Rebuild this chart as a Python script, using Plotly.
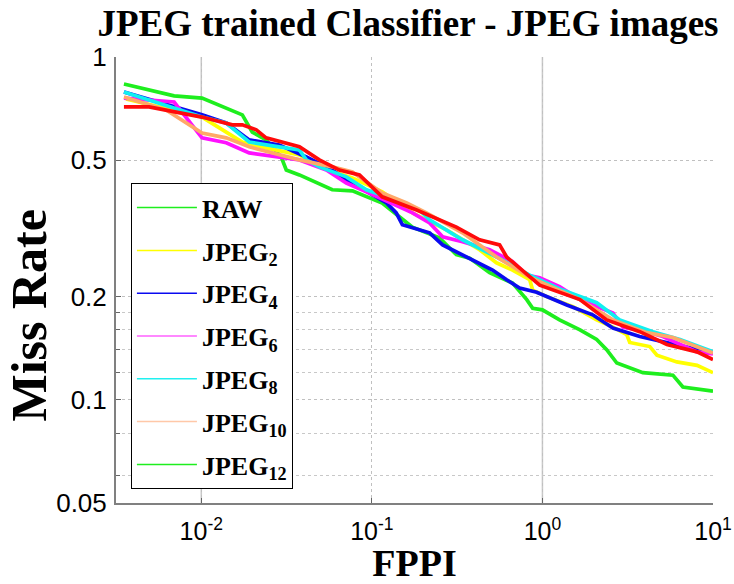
import plotly.graph_objects as go

# ---- data (FPPI vs miss rate) ----
raw_x = [0.00352, 0.00693, 0.0101, 0.0174, 0.0199, 0.0240, 0.0294, 0.0315, 0.0376, 0.0586, 0.0769,
         0.115, 0.145, 0.173, 0.249, 0.313, 0.374, 0.490, 0.668, 0.809, 0.877, 1.00, 1.26, 1.66,
         2.08, 2.38, 2.73, 3.57, 3.88, 5.82, 6.66, 10.0]
raw_y = [0.834, 0.770, 0.759, 0.678, 0.604, 0.573, 0.511, 0.468, 0.453, 0.410, 0.407,
         0.375, 0.342, 0.319, 0.297, 0.265, 0.259, 0.235, 0.219, 0.196, 0.185, 0.183, 0.171, 0.160,
         0.150, 0.140, 0.128, 0.122, 0.120, 0.118, 0.109, 0.106]

j2_x = [0.00362, 0.0101, 0.0140, 0.0174, 0.0240, 0.0376, 0.0492, 0.0769, 0.115, 0.173, 0.274,
        0.428, 0.538, 0.668, 0.842, 0.877, 1.06, 1.51, 2.08, 2.59, 3.12, 3.25, 4.26, 4.69, 6.14,
        8.06, 10.0]
j2_y = [0.754, 0.668, 0.604, 0.565, 0.543, 0.518, 0.478, 0.444, 0.404, 0.351, 0.313,
        0.274, 0.251, 0.239, 0.224, 0.209, 0.200, 0.187, 0.171, 0.163, 0.155, 0.147, 0.143, 0.135, 0.129,
        0.126, 0.120]

j4_x = [0.00352, 0.0101, 0.0140, 0.0191, 0.0286, 0.0413, 0.0586, 0.0709, 0.122, 0.139, 0.151,
        0.218, 0.260, 0.313, 0.428, 0.510, 0.617, 0.735, 0.925, 1.39, 1.97, 2.59, 3.72, 5.37,
        7.33, 10.0]
j4_y = [0.791, 0.678, 0.642, 0.573, 0.554, 0.511, 0.468, 0.438, 0.375, 0.351, 0.324,
        0.307, 0.283, 0.270, 0.251, 0.239, 0.224, 0.212, 0.206, 0.189, 0.177, 0.162, 0.153, 0.147,
        0.142, 0.137]

j6_x = [0.00352, 0.00693, 0.0101, 0.0140, 0.0191, 0.0376, 0.0541, 0.0709, 0.0929, 0.145, 0.173,
        0.218, 0.260, 0.340, 0.490, 0.668, 0.809, 0.964, 1.26, 1.66, 2.59, 2.96, 4.09, 5.08,
        6.40, 8.06, 10.0]
j6_y = [0.759, 0.739, 0.581, 0.562, 0.525, 0.501, 0.468, 0.429, 0.404, 0.365, 0.351,
        0.328, 0.299, 0.289, 0.274, 0.253, 0.231, 0.227, 0.214, 0.196, 0.179, 0.163, 0.158, 0.153,
        0.145, 0.138, 0.136]

j8_x = [0.00352, 0.0101, 0.0140, 0.0191, 0.0286, 0.0376, 0.0413, 0.0492, 0.0709, 0.0929, 0.122,
        0.190, 0.218, 0.340, 0.538, 0.842, 1.31, 2.08, 2.84, 4.44, 6.40, 10.0]
j8_y = [0.791, 0.668, 0.642, 0.565, 0.547, 0.536, 0.501, 0.478, 0.447, 0.410, 0.391,
        0.358, 0.335, 0.293, 0.261, 0.231, 0.209, 0.192, 0.171, 0.158, 0.150, 0.138]

j10_x = [0.00352, 0.00622, 0.0101, 0.0140, 0.0191, 0.0376, 0.0586, 0.0769, 0.115, 0.160, 0.209,
         0.340, 0.538, 0.842, 1.66, 2.59, 4.09, 5.82, 10.0]
j10_y = [0.764, 0.701, 0.600, 0.581, 0.547, 0.501, 0.478, 0.462, 0.401, 0.375, 0.351,
         0.307, 0.261, 0.228, 0.196, 0.171, 0.157, 0.152, 0.137]

j12_x = [0.00352, 0.00494, 0.0101, 0.0152, 0.0174, 0.0210, 0.0240, 0.0298, 0.0376, 0.0492, 0.0645,
         0.0846, 0.115, 0.183, 0.313, 0.428, 0.561, 0.617, 0.765, 0.964, 1.66, 2.38, 3.72, 5.37,
         8.06, 10.0]
j12_y = [0.715, 0.715, 0.668, 0.634, 0.634, 0.613, 0.581, 0.565, 0.547, 0.501, 0.468,
         0.453, 0.391, 0.358, 0.319, 0.293, 0.283, 0.261, 0.239, 0.216, 0.196, 0.171, 0.158, 0.145,
         0.138, 0.131]

series_names = ["RAW", "JPEG2", "JPEG4", "JPEG6", "JPEG8", "JPEG10", "JPEG12"]
series_x = [raw_x, j2_x, j4_x, j6_x, j8_x, j10_x, j12_x]
series_y = [raw_y, j2_y, j4_y, j6_y, j8_y, j10_y, j12_y]
line_colors = ["#1EEE1E", "#FFFF00", "#0A0AF0", "#FF10FF", "#10F0F0", "#FFA868", "#FF0A0A"]

legend_labels = ["RAW", "JPEG<sub>2</sub>", "JPEG<sub>4</sub>", "JPEG<sub>6</sub>",
                 "JPEG<sub>8</sub>", "JPEG<sub>10</sub>", "JPEG<sub>12</sub>"]
legend_colors = ["#1EEE1E", "#FFFF00", "#0A0AF0", "#FF60FF", "#20F0F0", "#FFC8A8", "#1EEE1E"]

x_ticks = [0.01, 0.1, 1, 10]
x_ticktext = ["10<sup>-2</sup>", "10<sup>-1</sup>", "10<sup>0</sup>", "10<sup>1</sup>"]
y_ticks = [0.05, 0.1, 0.2, 0.5, 1]
y_ticktext = ["0.05", "0.1", "0.2", "0.5", "1"]
y_minor = [0.06, 0.08, 0.12, 0.14, 0.16, 0.18]

fig = go.Figure()
for name, xs, ys, c in zip(series_names, series_x, series_y, line_colors):
    fig.add_trace(go.Scatter(x=xs, y=ys, mode="lines", name=name,
                             line=dict(color=c, width=3.7), showlegend=False))

for i, (lab, c) in enumerate(zip(legend_labels, legend_colors)):
    fig.add_trace(go.Scatter(x=[None], y=[None], mode="lines", name=lab,
                             legendgroup="g%d" % i,
                             line=dict(color=c, width=1.5), showlegend=True))

serif = "Liberation Serif"
sans = "Liberation Sans"

fig.update_layout(
    width=734, height=584,
    margin=dict(l=116, r=21, t=57, b=81),
    paper_bgcolor="white", plot_bgcolor="white",
    title=dict(text="JPEG trained Classifier - JPEG images",
               font=dict(family=serif, size=37, color="black", weight="bold"),
               x=408 / 734, xanchor="center", xref="container",
               y=1 - 23 / 584, yanchor="middle", yref="container"),
    legend=dict(x=0.025, y=0.717, xanchor="left", yanchor="top",
                bgcolor="white", bordercolor="black", borderwidth=1,
                font=dict(family=serif, size=26, color="black", weight="bold"),
                tracegroupgap=6, traceorder="grouped", itemwidth=60),
    xaxis=dict(type="log", range=[-2.5, 1], tickvals=x_ticks, ticktext=x_ticktext,
               tickfont=dict(family=sans, size=25, color="black"),
               ticks="inside", ticklen=5, tickcolor="#666",
               showline=True, linecolor="#808080", linewidth=2,
               showgrid=True, gridcolor="#c0c0c0", griddash="dot", gridwidth=1,
               zeroline=False, automargin=False, ticklabelstandoff=5,
               title=dict(text="FPPI", font=dict(family=serif, size=38, color="black", weight="bold"),
                          standoff=15)),
    yaxis=dict(type="log", range=[-1.30103, 0], tickvals=y_ticks, ticktext=y_ticktext,
               tickfont=dict(family=sans, size=26, color="black"),
               ticks="inside", ticklen=5, tickcolor="#666",
               showline=True, linecolor="#808080", linewidth=2,
               showgrid=True, gridcolor="#c0c0c0", griddash="dot", gridwidth=1,
               minor=dict(tickvals=y_minor, ticks="inside", ticklen=4, tickcolor="#666",
                          showgrid=True, gridcolor="#c8c8c8", griddash="dot", gridwidth=1),
               zeroline=False, automargin=False, ticklabelstandoff=2),
    annotations=[dict(text="Miss Rate", textangle=-90, xref="paper", yref="paper",
                      x=-0.146, y=0.42, xanchor="center", yanchor="middle", showarrow=False,
                      font=dict(family=serif, size=50, color="black", weight="bold"))],
    shapes=[dict(type="line", xref="x", yref="paper", x0=v, x1=v, y0=0, y1=1,
                 line=dict(color="#c8c8c8", width=1.5), layer="below") for v in [0.01, 1]],
)

fig.write_html("out.html", config={"displayModeBar": False},
               post_script="document.body.style.margin='0';document.body.style.padding='0';")
